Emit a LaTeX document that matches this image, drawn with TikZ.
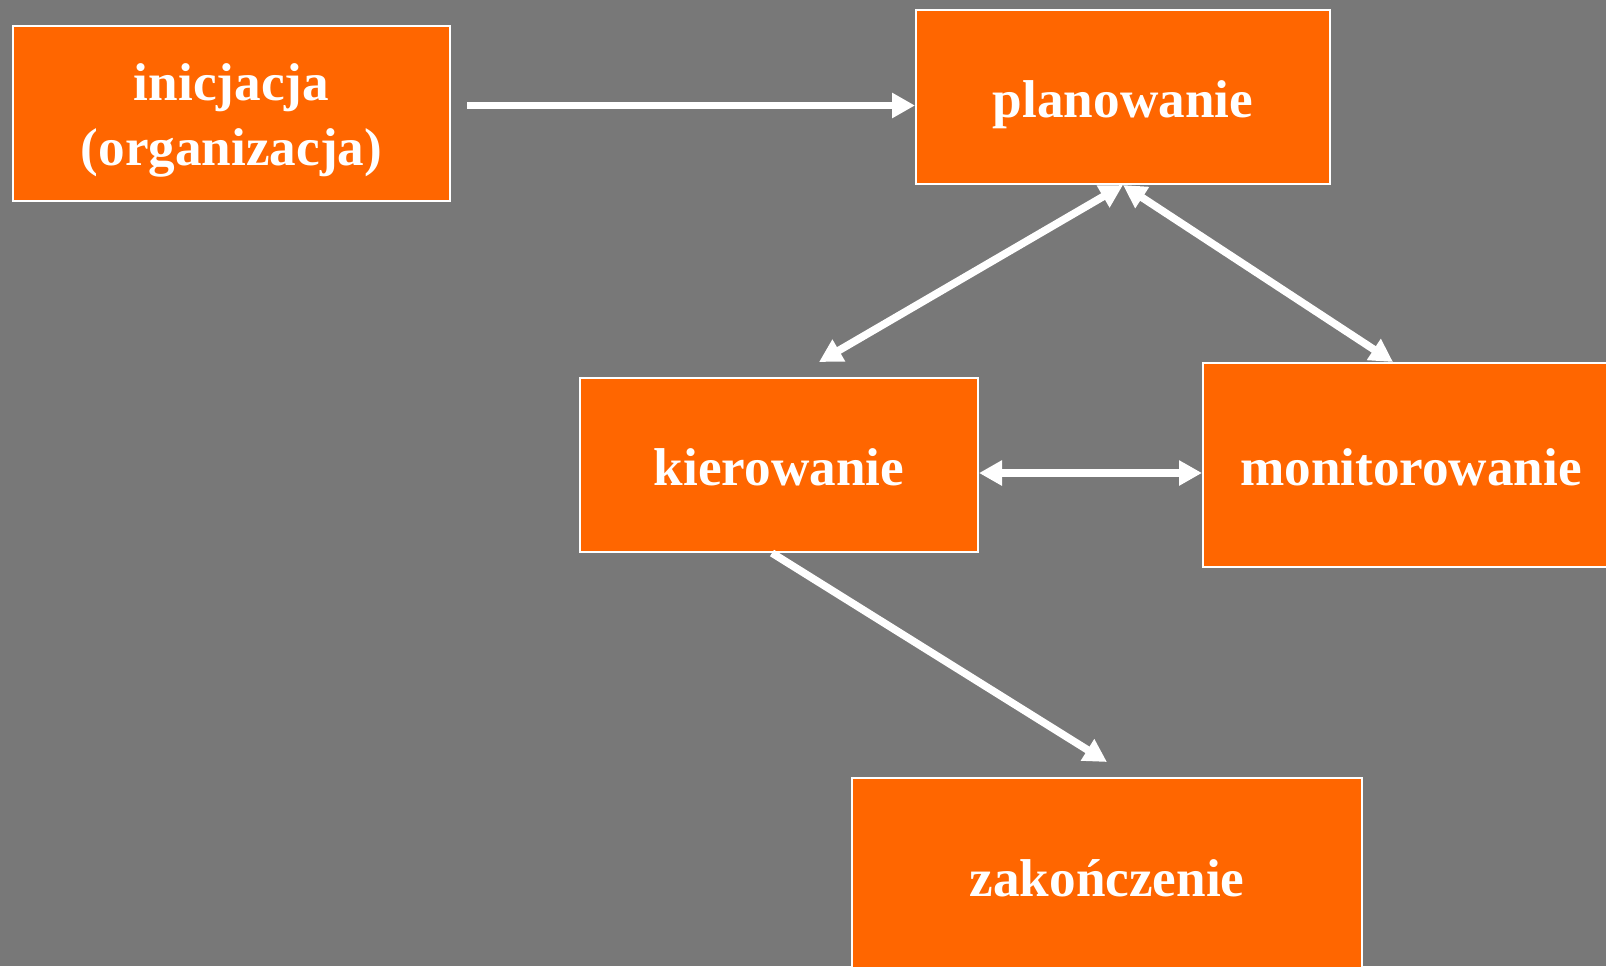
\documentclass[tikz,border=0pt]{standalone}
\usepackage{fontspec}
\setmainfont{Liberation Serif}
\usepackage{tikz}
\usetikzlibrary{positioning,arrows.meta}
\definecolor{bggray}{RGB}{120,120,120}
\definecolor{boxorange}{RGB}{255,102,0}

\begin{document}
\begin{tikzpicture}[
  x=0.5pt, y=-0.5pt,
  font=\fontsize{26.6}{32.5}\selectfont\bfseries,
  >={Triangle[length=11.5pt,width=12pt]},
  blk/.style={draw=white, line width=1pt, fill=boxorange, text=white,
              align=center, inner sep=0pt, minimum height=87pt,
              text height=20pt, text depth=0pt},
  ar/.style={->, white, line width=3.8pt},
  dar/.style={<->, white, line width=3.8pt},
]
  \useasboundingbox (0,0) rectangle (1606,966);
  \fill[bggray] (0,0) rectangle (1606,966);

  \node[blk, minimum width=218.5pt, minimum height=87.5pt, text height=51.5pt] (init)
        at (231.5,113.5) {inicjacja\\(organizacja)};
  \node[blk, minimum width=207pt] (plan) at (1123,97) {planowanie};
  \node[blk, minimum width=199pt] (kier) at (779,465) {kierowanie};
  \node[blk, minimum width=208pt, minimum height=102pt] (mon) at (1411,465) {monitorowanie};
  \node[blk, minimum width=255pt, minimum height=98pt] (zak) at (1107,876) {zakończenie};

  \draw[ar] ([xshift=8pt,yshift=4pt]init.east) -- ([yshift=4pt]init.east -| plan.west);
  \draw[dar] ([xshift=20pt,yshift=7.5pt]kier.north) -- (plan.south);
  \draw[dar] (plan.south) -- ([xshift=-9pt]mon.north);
  \draw[dar] ([yshift=-4pt]kier.east) -- ([yshift=-4pt]mon.west);
  \draw[ar] ([xshift=-3.5pt]kier.south) -- ([yshift=7.5pt]zak.north);
\end{tikzpicture}
\end{document}
